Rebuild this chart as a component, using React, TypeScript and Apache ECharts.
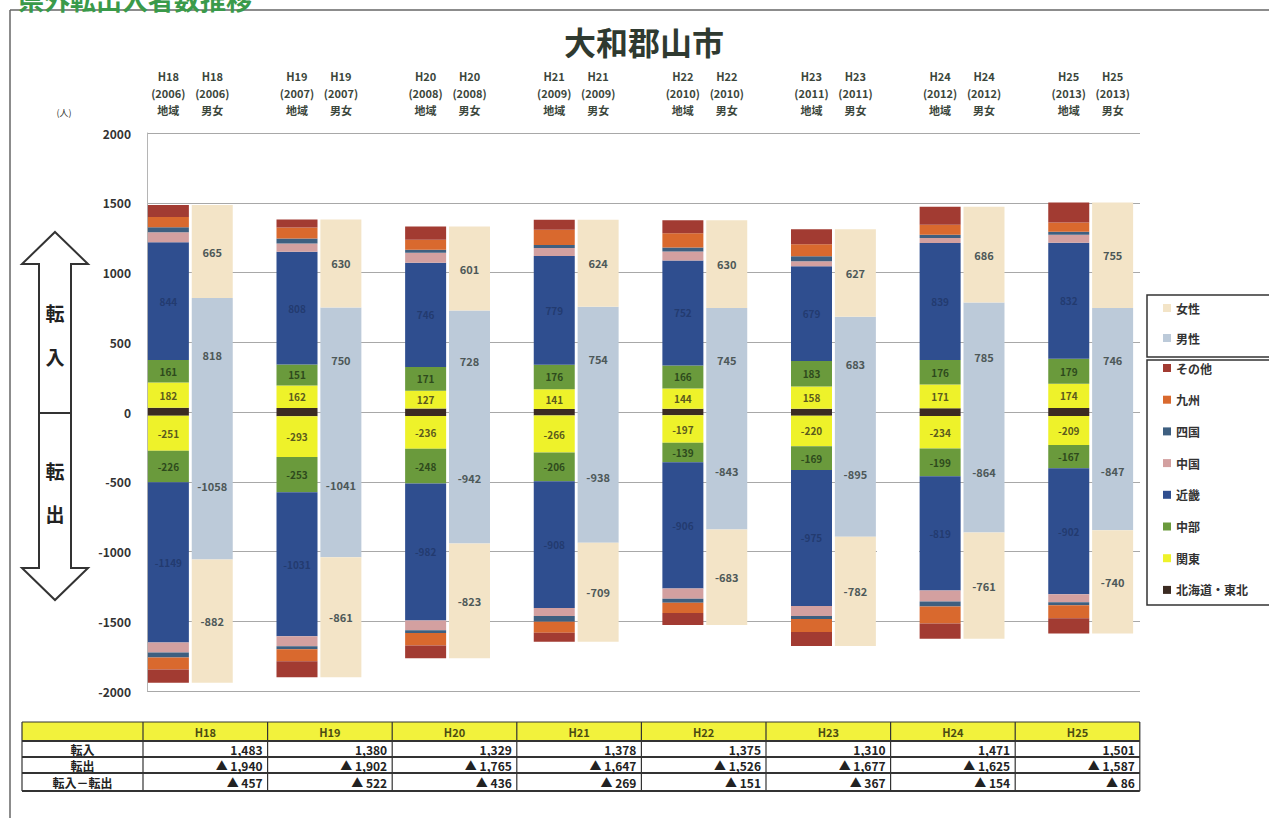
import React, { useEffect, useRef } from "react";
import * as echarts from "echarts";

const FONT = "'Noto Sans CJK JP', 'Noto Sans', sans-serif";

const years = ["H18", "H19", "H20", "H21", "H22", "H23", "H24", "H25"];
const westernYears = ["2006", "2007", "2008", "2009", "2010", "2011", "2012", "2013"];

// 転入 (in) by region
const inHokkaido = [30, 28, 25, 22, 24, 24, 26, 28];
const inKanto = [182, 162, 127, 141, 144, 158, 171, 174];
const inChubu = [161, 151, 171, 176, 166, 183, 176, 179];
const inKinki = [844, 808, 746, 779, 752, 679, 839, 832];
const inChugoku = [72, 58, 72, 58, 65, 36, 36, 58];
const inShikoku = [36, 36, 22, 22, 29, 36, 22, 22];
const inKyushu = [72, 79, 72, 108, 101, 86, 72, 65];
const inOther = [86, 58, 94, 72, 94, 108, 129, 143];

// 転出 (out) by region
const outHokkaido = [-26, -30, -28, -25, -24, -26, -28, -28];
const outKanto = [-251, -293, -236, -266, -197, -220, -234, -209];
const outChubu = [-226, -253, -248, -206, -139, -169, -199, -167];
const outKinki = [-1149, -1031, -982, -908, -906, -975, -819, -902];
const outChugoku = [-72, -72, -70, -58, -72, -72, -79, -58];
const outShikoku = [-36, -22, -20, -40, -30, -22, -36, -22];
const outKyushu = [-86, -86, -90, -79, -72, -93, -122, -93];
const outOther = [-94, -115, -91, -65, -86, -100, -108, -108];

// by sex
const inMale = [818, 750, 728, 754, 745, 683, 785, 746];
const inFemale = [665, 630, 601, 624, 630, 627, 686, 755];
const outMale = [-1058, -1041, -942, -938, -843, -895, -864, -847];
const outFemale = [-882, -861, -823, -709, -683, -782, -761, -740];

// table
const tableIn = [1483, 1380, 1329, 1378, 1375, 1310, 1471, 1501];
const tableOut = [1940, 1902, 1765, 1647, 1526, 1677, 1625, 1587];
const tableNet = [457, 522, 436, 269, 151, 367, 154, 86];
const tableRowLabels = ["転入", "転出", "転入－転出"];

const regionDefs = [
  { name: "北海道・東北", color: "#3b2b22", inData: inHokkaido, outData: outHokkaido, label: false, labelColor: "#333" },
  { name: "関東", color: "#eef22a", inData: inKanto, outData: outKanto, label: true, labelColor: "#5b5a1e" },
  { name: "中部", color: "#6a9a3c", inData: inChubu, outData: outChubu, label: true, labelColor: "#2e4a1c" },
  { name: "近畿", color: "#2f4e8f", inData: inKinki, outData: outKinki, label: true, labelColor: "#233b70" },
  { name: "中国", color: "#d3a0a0", inData: inChugoku, outData: outChugoku, label: false, labelColor: "#333" },
  { name: "四国", color: "#3e5f80", inData: inShikoku, outData: outShikoku, label: false, labelColor: "#333" },
  { name: "九州", color: "#d9692e", inData: inKyushu, outData: outKyushu, label: false, labelColor: "#333" },
  { name: "その他", color: "#a23b32", inData: inOther, outData: outOther, label: false, labelColor: "#333" },
];

const sexDefs = [
  { name: "男性", color: "#bccad9", inData: inMale, outData: outMale },
  { name: "女性", color: "#f3e4c7", inData: inFemale, outData: outFemale },
];

const BAR_W = 41;
const BAR_GAP = "7%";

function mkLabel(show: boolean, color: string, size = 10) {
  return {
    show,
    position: "inside",
    color,
    fontSize: size,
    fontWeight: "bold",
    fontFamily: FONT,
    formatter: (p: any) => String(p.value),
  };
}

const regionSeries = regionDefs.flatMap((d) =>
  [d.inData, d.outData].map((data) => ({
    name: d.name,
    type: "bar",
    stack: "region",
    xAxisIndex: 0,
    yAxisIndex: 0,
    barWidth: BAR_W,
    barGap: BAR_GAP,
    data,
    itemStyle: { color: d.color },
    label: mkLabel(d.label, d.labelColor),
    emphasis: { disabled: true },
  }))
);

const sexSeries = sexDefs.flatMap((d) =>
  [d.inData, d.outData].map((data) => ({
    name: d.name,
    type: "bar",
    stack: "sex",
    xAxisIndex: 0,
    yAxisIndex: 0,
    barWidth: BAR_W,
    barGap: BAR_GAP,
    data,
    itemStyle: { color: d.color },
    label: mkLabel(true, "#4d5858", 11),
    emphasis: { disabled: true },
  }))
);

const fmt = (n: number) => n.toLocaleString("en-US");

function buildTable() {
  const x0 = 22;
  const x1 = 143;
  const colW = 124.6;
  const xEnd = x1 + colW * years.length;
  const ys = [722, 741, 757, 773, 791];
  const els: any[] = [];
  els.push({ type: "rect", shape: { x: x0, y: ys[0], width: xEnd - x0, height: ys[1] - ys[0] }, style: { fill: "#f2f23c" } });
  els.push({ type: "rect", shape: { x: x0, y: ys[1], width: xEnd - x0, height: ys[4] - ys[1] }, style: { fill: "#ffffff" } });
  ys.forEach((y, i) =>
    els.push({ type: "line", shape: { x1: x0, y1: y, x2: xEnd, y2: y }, style: { stroke: "#333", lineWidth: i === 0 ? 1 : 2 } })
  );
  for (let k = 0; k <= years.length + 1; k++) {
    const x = k === 0 ? x0 : x1 + (k - 1) * colW;
    els.push({ type: "line", shape: { x1: x, y1: ys[0], x2: x, y2: ys[4] }, style: { stroke: "#333", lineWidth: 1.2 } });
  }
  years.forEach((yr, i) =>
    els.push({
      type: "text",
      x: x1 + (i + 0.5) * colW,
      y: (ys[0] + ys[1]) / 2,
      style: { text: yr, fill: "#4b4b12", font: `bold 11px ${FONT}`, align: "center", verticalAlign: "middle" },
    })
  );
  tableRowLabels.forEach((t, r) =>
    els.push({
      type: "text",
      x: (x0 + x1) / 2,
      y: (ys[r + 1] + ys[r + 2]) / 2,
      style: { text: t, fill: "#222", font: `bold 12px ${FONT}`, align: "center", verticalAlign: "middle" },
    })
  );
  const rows = [tableIn.map((v) => fmt(v)), tableOut.map((v) => "▲ " + fmt(v)), tableNet.map((v) => "▲ " + fmt(v))];
  rows.forEach((row, r) =>
    row.forEach((t, i) =>
      els.push({
        type: "text",
        x: x1 + (i + 1) * colW - 5,
        y: (ys[r + 1] + ys[r + 2]) / 2,
        style: { text: t, fill: "#222", font: `bold 12px ${FONT}`, align: "right", verticalAlign: "middle" },
      })
    )
  );
  return els;
}

const arrowPoints = [
  [55, 232], [88, 264], [71, 264], [71, 568], [88, 568], [55, 600],
  [22, 568], [39, 568], [39, 264], [22, 264],
];

const graphics: any[] = [
  { type: "line", shape: { x1: 10, y1: 10, x2: 1269, y2: 10 }, style: { stroke: "#666", lineWidth: 1.5 } },
  { type: "line", shape: { x1: 10, y1: 10, x2: 10, y2: 818 }, style: { stroke: "#666", lineWidth: 1.5 } },
  {
    type: "text", x: 18, y: 11,
    style: { text: "県外転出入者数推移", fill: "#3a9a4a", font: `bold 26px ${FONT}`, verticalAlign: "bottom" },
  },
  { type: "text", x: 64, y: 112, style: { text: "(人)", fill: "#333", font: `9px ${FONT}`, align: "center", verticalAlign: "middle" } },
  { type: "polygon", shape: { points: arrowPoints }, style: { fill: "#fff", stroke: "#333", lineWidth: 2 } },
  { type: "line", shape: { x1: 39, y1: 413, x2: 71, y2: 413 }, style: { stroke: "#333", lineWidth: 2 } },
  { type: "text", x: 55, y: 312, style: { text: "転", fill: "#222", font: `bold 19px ${FONT}`, align: "center", verticalAlign: "middle" } },
  { type: "text", x: 55, y: 356, style: { text: "入", fill: "#222", font: `bold 19px ${FONT}`, align: "center", verticalAlign: "middle" } },
  { type: "text", x: 55, y: 470, style: { text: "転", fill: "#222", font: `bold 19px ${FONT}`, align: "center", verticalAlign: "middle" } },
  { type: "text", x: 55, y: 513, style: { text: "出", fill: "#222", font: `bold 19px ${FONT}`, align: "center", verticalAlign: "middle" } },
  { type: "rect", shape: { x: 1147, y: 295, width: 140, height: 62 }, style: { fill: "none", stroke: "#333", lineWidth: 1.5 } },
  { type: "rect", shape: { x: 1147, y: 360, width: 140, height: 245 }, style: { fill: "none", stroke: "#333", lineWidth: 1.5 } },
  { type: "rect", z: 1, shape: { x: 877, y: 486, width: 42, height: 68 }, style: { fill: "#fff" } },
  ...buildTable(),
];

const legendText = { fontSize: 12, fontWeight: "bold", color: "#333", fontFamily: FONT, lineHeight: 14 };

const option: any = {
  animation: false,
  backgroundColor: "#fff",
  title: {
    text: "大和郡山市",
    left: 644,
    textAlign: "center",
    top: 24,
    padding: 0,
    textStyle: { fontSize: 32, lineHeight: 34, fontWeight: "bold", color: "#2f3a30", fontFamily: FONT },
  },
  legend: [
    {
      data: ["女性", "男性"],
      orient: "vertical",
      left: 1163,
      top: 301,
      padding: 0,
      itemWidth: 8,
      itemHeight: 8,
      itemGap: 16,
      icon: "rect",
      textStyle: legendText,
      selectedMode: false,
    },
    {
      data: ["その他", "九州", "四国", "中国", "近畿", "中部", "関東", "北海道・東北"],
      orient: "vertical",
      left: 1163,
      top: 361,
      padding: 0,
      itemWidth: 8,
      itemHeight: 8,
      itemGap: 17.7,
      icon: "rect",
      textStyle: legendText,
      selectedMode: false,
    },
  ],
  grid: [
    { left: 126, right: 114, top: 133, bottom: 127 },
    { left: 147, right: 129, top: 133, bottom: 127 },
  ],
  xAxis: [
    {
      type: "category",
      gridIndex: 0,
      position: "top",
      data: years,
      axisLine: { show: false },
      axisTick: { show: false },
      splitLine: { show: false },
      axisLabel: {
        interval: 0,
        margin: 15,
        formatter: (v: string, i: number) =>
          `{a|${v}}{a|${v}}\n{a|(${westernYears[i]})}{a|(${westernYears[i]})}\n{a|地域}{a|男女}`,
        rich: {
          a: { width: 44, align: "center", fontSize: 11, fontWeight: "bold", color: "#3b463b", lineHeight: 17, fontFamily: FONT },
        },
      },
    },
    { type: "category", gridIndex: 1, data: years, show: false },
  ],
  yAxis: [
    { type: "value", gridIndex: 0, min: -2000, max: 2000, interval: 500, show: false },
    {
      type: "value",
      gridIndex: 1,
      min: -2000,
      max: 2000,
      interval: 500,
      axisLine: { show: true, lineStyle: { color: "#b5b5b5", width: 1 } },
      axisTick: { show: false },
      splitLine: { show: true, lineStyle: { color: "#a8a8a8", width: 1 } },
      axisLabel: {
        margin: 16,
        fontSize: 12,
        fontWeight: "bold",
        color: "#333",
        fontFamily: FONT,
        formatter: (v: number) => String(v),
      },
    },
  ],
  graphic: graphics,
  series: [...regionSeries, ...sexSeries],
};

export default function App() {
  const ref = useRef<HTMLDivElement>(null);
  useEffect(() => {
    const chart = echarts.init(ref.current!, null, { renderer: "svg" });
    chart.setOption(option);
    return () => chart.dispose();
  }, []);
  return <div ref={ref} style={{ position: "absolute", left: 0, top: 0, width: 1269, height: 818 }} />;
}
